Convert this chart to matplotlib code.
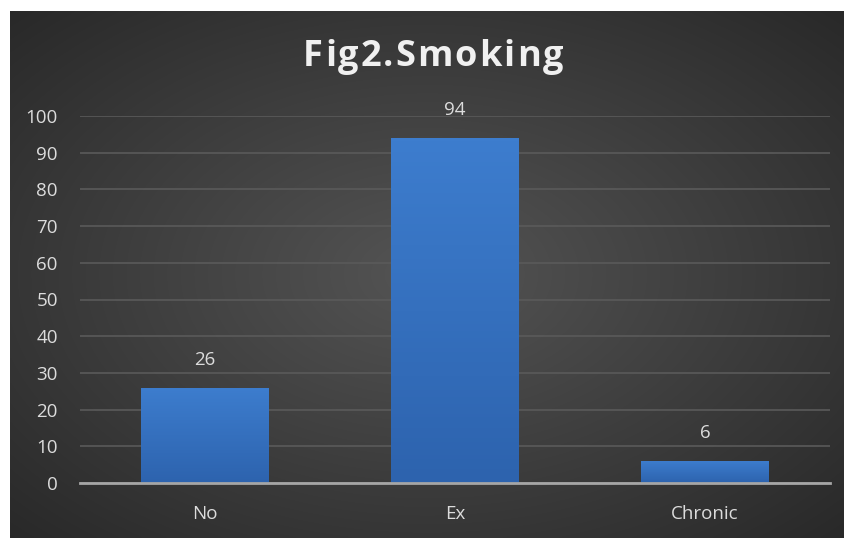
import matplotlib
matplotlib.use('Agg')
import matplotlib.pyplot as plt
import numpy as np

# data
categories = ['No', 'Ex', 'Chronic']
counts = [26, 94, 6]
yticks = [0, 10, 20, 30, 40, 50, 60, 70, 80, 90, 100]
title = 'Fig2.Smoking'

plt.rcParams['font.family'] = ['Open Sans', 'DejaVu Sans']

fig = plt.figure(figsize=(8.45, 5.38), dpi=100)
fig.patch.set_facecolor('white')

# dark radial background
bg = fig.add_axes([10 / 845, 0, 835 / 845, 527 / 538])
bg.set_axis_off()
gx, gy = np.meshgrid(np.linspace(-1, 1, 400), np.linspace(-1, 1, 260))
r = np.sqrt(gx ** 2 + gy ** 2) / np.sqrt(2)
shade = 0.33 - 0.17 * r
img = np.dstack([shade, shade, shade])
bg.imshow(img, aspect='auto', extent=[0, 1, 0, 1], interpolation='bilinear')
bg.set_xlim(0, 1)
bg.set_ylim(0, 1)

ax = fig.add_axes([80 / 845, 1 - 483 / 538, 750 / 845, (483 - 116) / 538])
ax.set_facecolor('none')

x = np.arange(len(categories))
bars = ax.bar(x, counts, width=0.51, color='#3a77c6', zorder=3)

# vertical gradient on bars
grad = np.linspace(0, 1, 100).reshape(-1, 1)
top_c = np.array([0x3d, 0x7d, 0xce]) / 255
bot_c = np.array([0x2d, 0x63, 0xae]) / 255
gimg = bot_c[None, None, :] * (1 - grad[:, :, None]) + top_c[None, None, :] * grad[:, :, None]
for b in bars:
    bx, by = b.get_x(), b.get_y()
    w, h = b.get_width(), b.get_height()
    im = ax.imshow(gimg, extent=[bx, bx + w, by, by + h], origin='lower',
                   aspect='auto', zorder=4)
    im.set_clip_path(b)

for xi, v in zip(x, counts):
    ax.text(xi, v + 7.6, str(v), ha='center', va='center', color='#dcdcdc',
            fontsize=13.5)

ax.set_xlim(-0.5, 2.5)
ax.set_ylim(0, 100)
ax.set_yticks(yticks)
ax.set_xticks(x)
ax.set_xticklabels(categories)
ax.tick_params(axis='both', length=0, colors='#dcdcdc', labelsize=13.5)
ax.tick_params(axis='y', pad=16)
ax.tick_params(axis='x', pad=16)
ax.yaxis.grid(True, color='#5a5a5a', linewidth=1.2, zorder=0)
ax.set_axisbelow(True)
for s in ['top', 'right', 'left']:
    ax.spines[s].set_visible(False)
ax.spines['bottom'].set_color('#a6a6a6')
ax.spines['bottom'].set_linewidth(2)
ax.spines['bottom'].set_zorder(5)

# title with extra letter spacing
renderer = fig.canvas.get_renderer()
spacing = 2.0
W = fig.bbox.width
widths = []
for ch in title:
    t = fig.text(0, 0, ch, fontsize=26, fontweight='bold')
    widths.append(t.get_window_extent(renderer).width)
    t.remove()
full = fig.text(0, 0, title, fontsize=26, fontweight='bold')
natural = full.get_window_extent(renderer).width
full.remove()
scale = natural / sum(widths)
total = natural + spacing * (len(title) - 1)
xpos = 433 - total / 2
for ch, w in zip(title, widths):
    fig.text(xpos / W, 1 - 57 / 538, ch, ha='left', va='center',
             color='#f0f0f0', fontsize=26, fontweight='bold')
    xpos += w * scale + spacing

fig.savefig('out.png', dpi=100)
